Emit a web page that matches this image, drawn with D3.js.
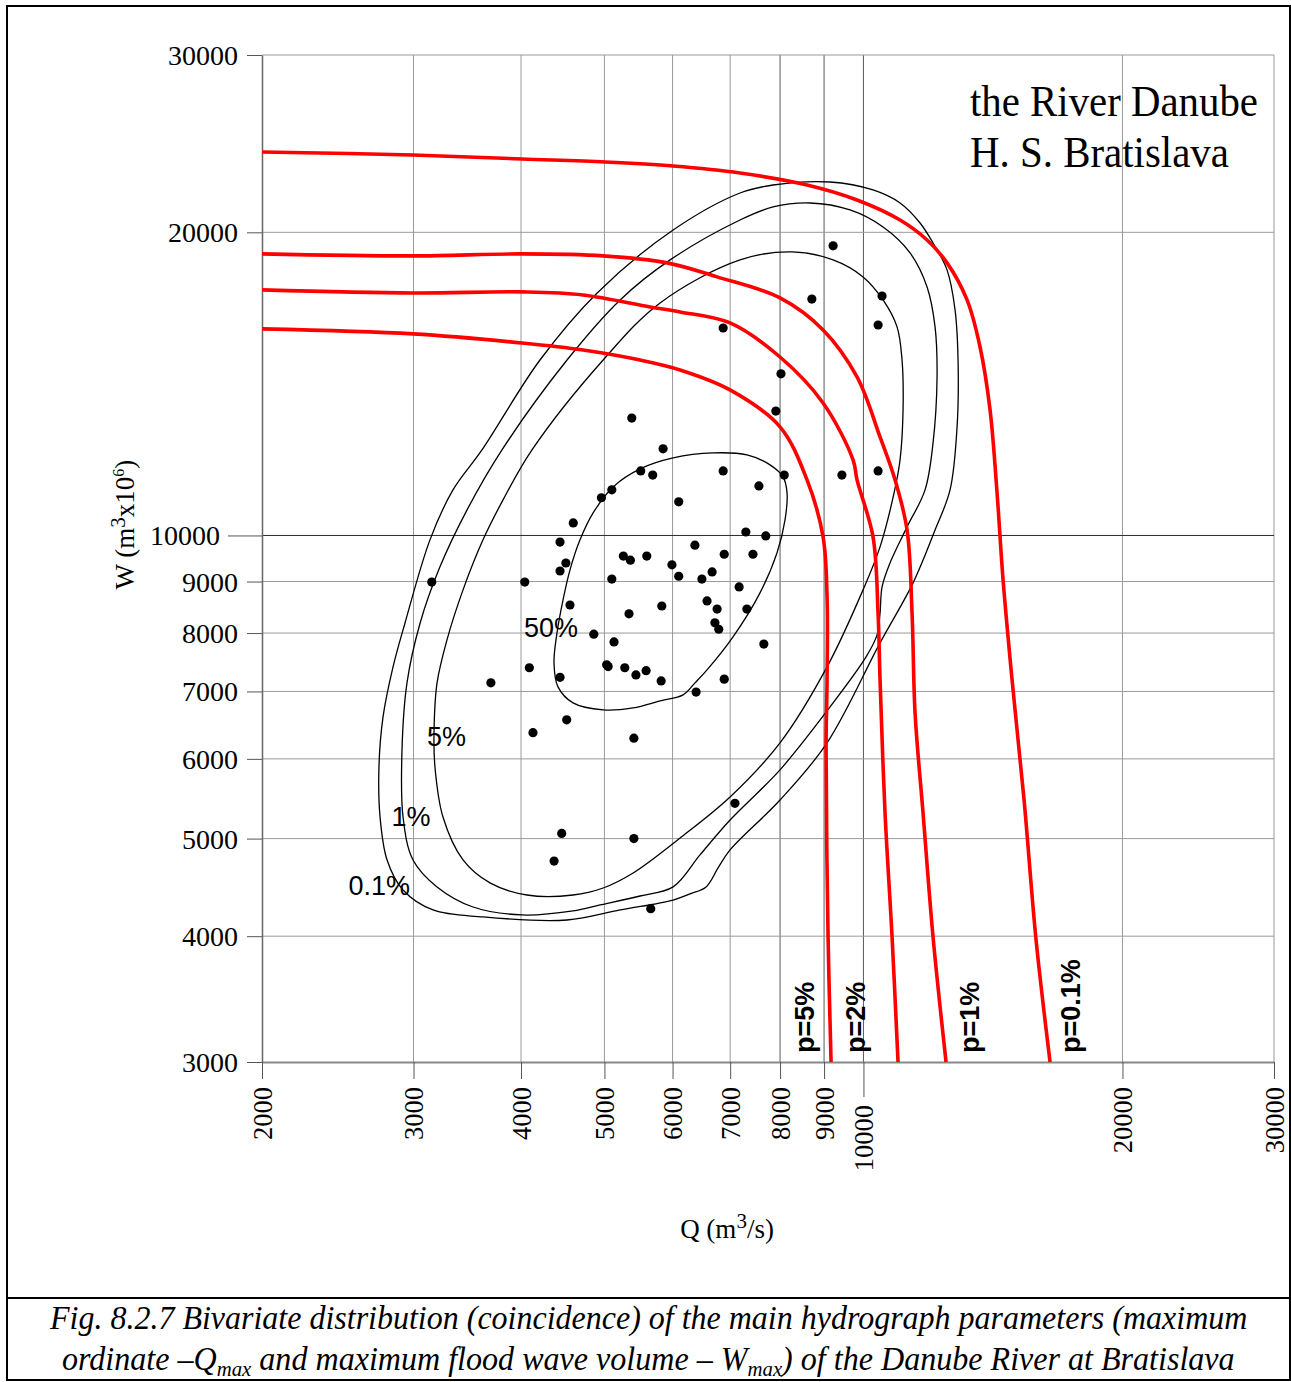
<!DOCTYPE html>
<html>
<head>
<meta charset="utf-8">
<script src="https://cdn.jsdelivr.net/npm/d3@7"></script>
<style>
  body { margin: 0; background: #fff; }
  svg { display: block; }
</style>
</head>
<body>
<svg id="chart" width="1291" height="1382"></svg>
<script>
// ---- axis ticks -------------------------------------------------------
const qTicks = [2000, 3000, 4000, 5000, 6000, 7000, 8000, 9000, 10000, 20000, 30000];
const wTicks = [3000, 4000, 5000, 6000, 7000, 8000, 9000, 10000, 20000, 30000];

// ---- observed annual floods: [Qmax (m3/s), Wmax (m3 x 10^6)] ----------
const observations = [
  [5380, 13080], [5850, 12190], [5510, 11590], [5690, 11480], [6870, 11590],
  [7910, 13290], [8090, 11480], [7560, 11200], [5100, 11100], [4960, 10900],
  [6100, 10800], [4600, 10290], [7300, 10080], [7700, 9990], [4440, 9850],
  [6370, 9780], [6890, 9580], [7440, 9580], [5260, 9540], [5360, 9450],
  [5600, 9540], [4510, 9390], [4440, 9220], [5990, 9350], [6100, 9110],
  [6670, 9200], [6490, 9050], [5100, 9050], [3150, 8990], [4040, 8990],
  [7170, 8890], [4560, 8530], [5830, 8510], [5340, 8360], [6580, 8610],
  [6760, 8450], [7320, 8450], [6720, 8190], [6790, 8070], [4860, 7980],
  [5130, 7840], [7660, 7800], [4090, 7390], [5030, 7440], [5050, 7410],
  [5280, 7390], [5440, 7270], [5590, 7340], [5820, 7170], [4440, 7230],
  [3690, 7140], [6890, 7200], [6390, 6990], [4520, 6560], [4130, 6370],
  [5410, 6290], [4460, 5060], [5410, 5000], [4370, 4750], [5660, 4260],
  [7090, 5420], [9220, 19390], [8710, 17170], [10510, 17290], [10400, 16180],
  [6870, 16070], [8020, 14470], [9440, 11480], [10400, 11590]
];

// ---- probability density contours (closed), [Q, W] ------------------------
const contour50 = [
  [6687, 12077], [7323, 12022], [7788, 11751], [8064, 11433], [8151, 11022],
  [8107, 10362], [7935, 9610], [7582, 8770], [7054, 7930], [6580, 7353],
  [6371, 7138], [6172, 6945], [5803, 6850], [5399, 6742], [4983, 6711],
  [4597, 6819], [4416, 7073], [4369, 7472], [4404, 8003], [4476, 8631],
  [4560, 9244], [4684, 9900], [4851, 10529], [5118, 11174], [5501, 11644],
  [6009, 11940]
];
const contour5 = [
  [3177, 5891], [3169, 6367], [3195, 7138], [3281, 7876], [3425, 8830],
  [3613, 9900], [3812, 10847], [4119, 12161], [4983, 14936], [5803, 17019],
  [7187, 18778], [8260, 19124], [9219, 18778], [9989, 18062], [10539, 17136],
  [10941, 16110], [11088, 14936], [11118, 13325], [11029, 11886], [10854, 11022],
  [10454, 9743], [9989, 8830], [9072, 7404], [7999, 6223], [6998, 5499],
  [6122, 5007], [5399, 4622], [4983, 4466], [4597, 4395], [4064, 4395],
  [3681, 4518], [3425, 4762], [3246, 5253]
];
const contour1 = [
  [2917, 5253], [2909, 6125], [2948, 7138], [3053, 8182], [3220, 9307],
  [3462, 10602], [3801, 12161], [4524, 14936], [5215, 17136], [5961, 18778],
  [7187, 20572], [7851, 21193], [8669, 21388], [9648, 21048], [10539, 20245],
  [11328, 19081], [11856, 17653], [12112, 16110], [12177, 14369], [12047, 12357],
  [11792, 11098], [11238, 10198], [10738, 9393], [10511, 8891], [10454, 8371],
  [10371, 7966], [10070, 7575], [9145, 6757], [7999, 5851], [6998, 5217],
  [6457, 4817], [6009, 4477], [5501, 4385], [4943, 4296], [4597, 4238],
  [4010, 4199], [3518, 4276], [3195, 4477], [2996, 4762]
];
const contour01 = [
  [2743, 5253], [2735, 5891], [2765, 6604], [2840, 7404], [2932, 8182],
  [3135, 9900], [3334, 11098], [3603, 12161], [4208, 14936], [4904, 17412],
  [6009, 20107], [7187, 21882], [7851, 22286], [9145, 22440], [10260, 22033],
  [11029, 21388], [11636, 20431], [12047, 19517], [12507, 18354], [12778, 16749],
  [12881, 14936], [12847, 12818], [12608, 11098], [12112, 10128], [11420, 8973],
  [10454, 7822], [9072, 6223], [7999, 5461], [6998, 4872], [6777, 4676],
  [6563, 4477], [6287, 4406], [6009, 4345], [5215, 4247], [4524, 4151],
  [3613, 4180], [3161, 4247], [2917, 4446], [2795, 4762]
];
const contourNames = ["50%", "5%", "1%", "0.1%"];
// label anchors [Q, W] (left end of the text, on its baseline)
const contourLabelAt = [[4032, 7930], [3110, 6181], [2829, 5147], [2521, 4395]];

// ---- joint exceedance probability curves, [Q, W] ------------------------
const curveP5 = [
  [2000, 16037], [2996, 15854], [4010, 15528], [4722, 15282], [5501, 14936],
  [6122, 14601], [6998, 13949], [7999, 12818], [8599, 11354], [8976, 9968],
  [9072, 8690], [9072, 7187], [9048, 6167], [9097, 3993], [9170, 3000]
];
const curveP2 = [
  [2000, 17532], [2996, 17412], [4010, 17452], [4722, 17333], [5650, 16864],
  [6122, 16672], [6998, 16258], [7999, 15039], [8976, 13540], [9726, 11886],
  [9830, 11354], [10260, 9968], [10399, 8371], [10454, 7187], [10595, 5302],
  [10796, 3993], [10970, 3000]
];
const curveP1 = [
  [2000, 19037], [2996, 18950], [4010, 19037], [4983, 18950], [5913, 18650],
  [6759, 18062], [7999, 17214], [8976, 16000], [9830, 14369], [10454, 12527],
  [10883, 11354], [11238, 10128], [11389, 8371], [11481, 6665], [11729, 5302],
  [12047, 3993], [12474, 3000]
];
const curveP01 = [
  [2000, 24032], [2996, 23868], [4010, 23651], [5010, 23489], [6009, 23275],
  [7187, 22906], [8599, 22286], [9830, 21535], [11029, 20572], [11856, 19652],
  [12507, 18650], [13195, 17136], [13662, 15387], [14033, 13325], [14298, 11022],
  [14530, 9035], [14884, 7187], [15370, 5461], [15871, 3966], [16477, 3000]
];
const curveNames = ["p=5%", "p=2%", "p=1%", "p=0.1%"];
// Q position of each vertical label (its centre line)
const curveLabelQ = [8553, 9800, 13283, 17404];

// ---- layout -------------------------------------------------------------
const svg = d3.select("#chart");
const serif = "'Liberation Serif', 'Times New Roman', serif";
const sans = "'Liberation Sans', Arial, sans-serif";

const x = d3.scaleLog().domain([2000, 30000]).range([262, 1274]);
const y = d3.scaleLog().domain([3000, 30000]).range([1062, 55]);

// squeeze a text element horizontally so that it spans [x0, x1]
function fitWidth(t, x0, x1) {
  const w = t.node().getComputedTextLength();
  t.attr("x", 0).attr("transform", `translate(${x0},0) scale(${(x1 - x0) / w},1)`);
}

// outer frame and caption separator
svg.append("rect").attr("x", 7).attr("y", 6).attr("width", 1283).attr("height", 1374)
  .attr("fill", "none").attr("stroke", "#000").attr("stroke-width", 2);
svg.append("line").attr("x1", 7).attr("x2", 1290).attr("y1", 1298).attr("y2", 1298)
  .attr("stroke", "#000").attr("stroke-width", 2);

// grid
const grid = svg.append("g");
const vGridColor = q => (q >= 8000 && q <= 10000) ? "#5a5a5a" : "#9a9a9a";
const hGridColor = w => (w === 10000) ? "#2a2a2a" : "#9a9a9a";
grid.selectAll("line.v").data(qTicks.slice(1)).join("line")
  .attr("x1", d => x(d)).attr("x2", d => x(d))
  .attr("y1", y(30000)).attr("y2", y(3000))
  .attr("stroke", vGridColor).attr("stroke-width", 1);
grid.selectAll("line.h").data(wTicks.slice(1)).join("line")
  .attr("x1", x(2000)).attr("x2", x(30000))
  .attr("y1", d => y(d)).attr("y2", d => y(d))
  .attr("stroke", hGridColor).attr("stroke-width", 1);

// axes
const yAxis = d3.axisLeft(y).tickValues(wTicks).tickSize(15).tickSizeOuter(0)
  .tickPadding(9).tickFormat(d3.format("d"));
const gy = svg.append("g").attr("transform", `translate(${x(2000)},0)`).call(yAxis);
gy.select(".domain").attr("stroke", "#666").attr("stroke-width", 1.5);
gy.selectAll(".tick line").attr("stroke", "#555");
gy.selectAll(".tick text").attr("font-family", serif).attr("font-size", 28)
  .attr("fill", "#000").attr("dy", "0.34em");
gy.selectAll(".tick").filter(d => d === 10000).select("line").attr("x2", -34);
gy.selectAll(".tick").filter(d => d === 10000).select("text").attr("x", -42);

const xAxis = d3.axisBottom(x).tickValues(qTicks).tickSize(17).tickSizeOuter(0)
  .tickFormat(d3.format("d"));
const gx = svg.append("g").attr("transform", `translate(0,${y(3000)})`).call(xAxis);
gx.select(".domain").attr("stroke", "#888").attr("stroke-width", 2);
gx.selectAll(".tick line").attr("stroke", "#555");
gx.selectAll(".tick text")
  .attr("font-family", serif).attr("font-size", 26.5).attr("fill", "#000")
  .attr("transform", "rotate(-90)").attr("text-anchor", "end")
  .attr("x", -25).attr("y", 0).attr("dy", "0.35em");
gx.selectAll(".tick").filter(d => d === 10000).select("line").attr("y2", 35);
gx.selectAll(".tick").filter(d => d === 10000).select("text").attr("x", -43);

// axis titles
const yTitle = svg.append("text")
  .attr("transform", `translate(134,${(455 + 594) / 2}) rotate(-90)`)
  .attr("text-anchor", "middle").attr("font-family", serif).attr("font-size", 27);
yTitle.append("tspan").text("W (m");
yTitle.append("tspan").attr("dy", -9).attr("font-size", 21).text("3");
yTitle.append("tspan").attr("dy", 9).text("x10");
yTitle.append("tspan").attr("dy", -10).attr("font-size", 16).text("6");
yTitle.append("tspan").attr("dy", 10).text(")");

const xTitle = svg.append("text")
  .attr("x", 727).attr("y", 1238)
  .attr("text-anchor", "middle").attr("font-family", serif).attr("font-size", 27);
xTitle.append("tspan").text("Q (m");
xTitle.append("tspan").attr("dy", -10).attr("font-size", 21).text("3");
xTitle.append("tspan").attr("dy", 10).text("/s)");

// contours
const contourLine = d3.line().x(d => x(d[0])).y(d => y(d[1]))
  .curve(d3.curveCatmullRomClosed.alpha(0.5));
const contours = [contour50, contour5, contour1, contour01];
svg.append("g").selectAll("path").data(contours).join("path")
  .attr("d", contourLine).attr("fill", "none")
  .attr("stroke", "#000").attr("stroke-width", 1.3);

svg.append("g").selectAll("text").data(contourNames).join("text")
  .attr("x", (d, i) => x(contourLabelAt[i][0]))
  .attr("y", (d, i) => y(contourLabelAt[i][1]))
  .attr("font-family", sans).attr("font-size", 27).attr("fill", "#000")
  .text(d => d);

// exceedance curves
const curveLine = d3.line().x(d => x(d[0])).y(d => y(d[1]))
  .curve(d3.curveCatmullRom.alpha(0.5));
const curves = [curveP5, curveP2, curveP1, curveP01];
svg.append("g").selectAll("path").data(curves).join("path")
  .attr("d", curveLine).attr("fill", "none")
  .attr("stroke", "#ff0000").attr("stroke-width", 3.6);

svg.append("g").selectAll("text").data(curveNames).join("text")
  .attr("transform", (d, i) => `translate(${x(curveLabelQ[i])},${y(3000) - 9}) rotate(-90)`)
  .attr("dy", "0.35em")
  .attr("font-family", sans).attr("font-weight", "bold").attr("font-size", 27)
  .attr("fill", "#000").text(d => d);

// observations
svg.append("g").selectAll("circle").data(observations).join("circle")
  .attr("cx", d => x(d[0])).attr("cy", d => y(d[1])).attr("r", 4.6)
  .attr("fill", "#000");

// station title
const title = svg.append("g").attr("font-family", serif).attr("font-size", 45);
fitWidth(title.append("text").attr("y", 116).text("the River Danube"), 970, 1258);
fitWidth(title.append("text").attr("y", 167).text("H. S. Bratislava"), 970, 1229);

// figure caption (italic, condensed to the frame width)
const cap = svg.append("g").attr("font-family", serif).attr("font-style", "italic")
  .attr("font-size", 34);
const cap1 = cap.append("text").attr("y", 1329)
  .text("Fig. 8.2.7 Bivariate distribution (coincidence) of the main hydrograph parameters (maximum");
const cap2 = cap.append("text").attr("y", 1370);
cap2.append("tspan").text("ordinate \u2013Q");
cap2.append("tspan").attr("dy", 6).attr("font-size", 22).text("max");
cap2.append("tspan").attr("dy", -6).text(" and maximum flood wave volume \u2013 W");
cap2.append("tspan").attr("dy", 6).attr("font-size", 22).text("max");
cap2.append("tspan").attr("dy", -6).text(") of the Danube River at Bratislava");
fitWidth(cap1, 50, 1248);
fitWidth(cap2, 62, 1235);
</script>
</body>
</html>
